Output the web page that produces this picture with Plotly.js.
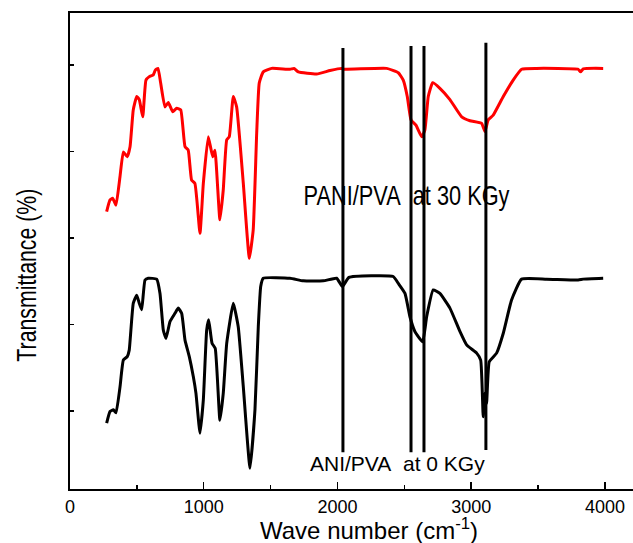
<!DOCTYPE html>
<html>
<head>
<meta charset="utf-8">
<script src="https://cdn.plot.ly/plotly-3.0.1.min.js"></script>
<style>html,body{margin:0;padding:0;background:#fff;}#chart{width:633px;height:543px;}</style>
</head>
<body>
<div id="chart"></div>
<script>
// PANI/PVA at 30 KGy (red)
const redX = [274,299,319,344,374,399,428,449,473,499,518,544,568,593,623,638,658,678,710,735,768,798,828,860,884,909,934,972,997,1034,1067,1084,1121,1146,1172,1191,1221,1246,1296,1341,1370,1396,1415,1445,1508,1645,1675,1707,1845,1944,2031,2043,2368,2455,2492,2522,2550,2587,2630,2654,2679,2712,2766,2841,2929,2991,3078,3103,3127,3165,3240,3314,3377,3489,3800,3818,3838,3987];
const redY = [64.1,66.8,67.2,65.6,72.2,77.9,76.8,79.1,87.6,90.7,90.0,86.0,94.5,95.3,95.7,96.8,97.2,93.8,88.3,89.3,87.2,88.0,87.6,79.1,78.3,71.4,70.6,59.1,70.6,81.4,76.8,78.3,62.2,69.1,80.7,81.4,90.7,88.3,70.6,53.3,59.9,82.2,93.8,96.4,97.2,97.0,97.2,96.4,95.9,96.7,97.2,97.0,97.2,96.2,94.5,90.7,85.3,84.1,81.4,83.0,90.7,93.9,92.6,90.0,86.0,85.1,84.5,82.6,85.3,86.4,90.7,94.5,97.0,97.2,97.0,96.4,97.1,97.2];
// ANI/PVA at 0 KGy (black)
const blackX = [274,299,324,344,374,399,428,443,473,499,518,536,561,585,648,673,698,718,748,785,810,835,860,892,922,942,972,997,1022,1037,1062,1086,1121,1146,1172,1221,1258,1296,1346,1383,1408,1426,1445,1645,1744,1894,1994,2037,2086,2417,2455,2505,2542,2579,2637,2667,2716,2766,2841,2916,2966,3041,3071,3090,3103,3115,3135,3190,3240,3302,3377,3564,3800,3838,3987];
const blackY = [15.2,17.9,18.3,17.6,23.6,29.8,30.6,32.1,42.9,44.8,42.9,41.4,48.3,48.7,48.5,45.2,36.7,34.8,38.7,40.6,41.8,40.6,34.4,30.6,26.0,22.1,12.9,20.6,36.7,39.1,33.7,32.5,15.9,22.1,33.7,42.9,37.5,23.6,4.8,18.3,37.5,46.8,48.7,48.7,48.1,48.1,48.7,46.8,48.9,49.1,47.5,45.2,39.8,36.4,34.0,39.8,46.0,45.2,41.8,36.4,33.3,31.4,29.8,16.7,22.1,19.8,29.4,31.4,36.0,43.7,48.5,48.5,48.3,48.5,48.7];
// marker lines (wavenumber, bottom, top)
const markerX = [2041, 2550, 2647, 3110];
const markerBottom = [8.5, 8.5, 8.5, 9.0];
const markerTop = [101.9, 102.4, 102.4, 103.1];
const xTicks = [0, 1000, 2000, 3000, 4000];
const xTickText = ['0', '1000', '2000', '3000', '4000'];
const yTicks = [18, 38, 58, 78, 98];
const xTitle = 'Wave number (cm<sup>-1</sup>)';
const yTitle = 'Transmittance (%)';
const labelRed = 'PANI/PVA&nbsp; at 30 KGy';
const labelBlack = 'ANI/PVA&nbsp; at 0 KGy';

const REG = 'Liberation Sans, Arial, sans-serif';

const traces = [
  {x: redX, y: redY, mode: 'lines', line: {color: '#ff0000', width: 3, shape: 'spline', smoothing: 0.4}, hoverinfo: 'skip'},
  {x: blackX, y: blackY, mode: 'lines', line: {color: '#000000', width: 3, shape: 'spline', smoothing: 0.4}, hoverinfo: 'skip'}
];
markerX.forEach((mx, i) => {
  traces.push({x: [mx, mx], y: [markerBottom[i], markerTop[i]], mode: 'lines', line: {color: '#000000', width: 3}, hoverinfo: 'skip'});
});

const L = 70, R = 0, T = 13, B = 54;
const pw = 633 - L - R, ph = 543 - T - B;
const px2paperX = p => (p - L) / pw;
const px2paperY = p => (543 - B - p) / ph;

const layout = {
  width: 633, height: 543,
  margin: {l: L, r: R, t: T, b: B},
  showlegend: false,
  paper_bgcolor: '#fff', plot_bgcolor: '#fff',
  font: {family: REG, color: '#000'},
  xaxis: {
    range: [0, 4210], showgrid: false, zeroline: false,
    showline: true, linecolor: '#000', linewidth: 2, mirror: true,
    ticks: 'inside', ticklen: 7, tickwidth: 1.5, tickcolor: '#000',
    tickvals: xTicks, ticktext: xTickText,
    minor: {tickvals: [500, 1500, 2500, 3500], ticks: 'inside', ticklen: 4, tickwidth: 1.5, tickcolor: '#000'},
    tickfont: {size: 18}
  },
  yaxis: {
    range: [0, 110], showgrid: false, zeroline: false,
    showline: true, linecolor: '#000', linewidth: 2,
    ticks: 'inside', ticklen: 4, tickwidth: 1.5, tickcolor: '#000',
    tickvals: yTicks, showticklabels: false
  },
  annotations: [
    {text: labelRed, x: 2515, y: 67.8, xref: 'x', yref: 'y', xanchor: 'center', yanchor: 'middle', showarrow: false, font: {size: 28, color: '#000'}},
    {text: labelBlack, x: 2452, y: 5.9, xref: 'x', yref: 'y', xanchor: 'center', yanchor: 'middle', showarrow: false, font: {size: 21, color: '#000'}},
    {text: xTitle, x: px2paperX(369), y: px2paperY(529), xref: 'paper', yref: 'paper', xanchor: 'center', yanchor: 'middle', showarrow: false, font: {size: 24, color: '#000'}},
    {text: yTitle, x: px2paperX(26), y: px2paperY(275), textangle: -90, xref: 'paper', yref: 'paper', xanchor: 'center', yanchor: 'middle', showarrow: false, font: {size: 28, color: '#000'}}
  ]
};

// target ink lengths (px) for the condensed-looking labels in the reference
const condensed = {0: 206, 3: 173};

Plotly.newPlot('chart', traces, layout, {staticPlot: true, displayModeBar: false}).then(() => {
  const texts = document.querySelectorAll('#chart .annotation-text');
  Object.keys(condensed).forEach(k => {
    const t = texts[+k];
    if (!t) return;
    const bb = t.getBBox();
    const s = condensed[k] / bb.width;
    const cx = bb.x + bb.width / 2;
    t.setAttribute('transform', `translate(${cx},0) scale(${s},1) translate(${-cx},0)`);
  });
});
</script>
</body>
</html>
